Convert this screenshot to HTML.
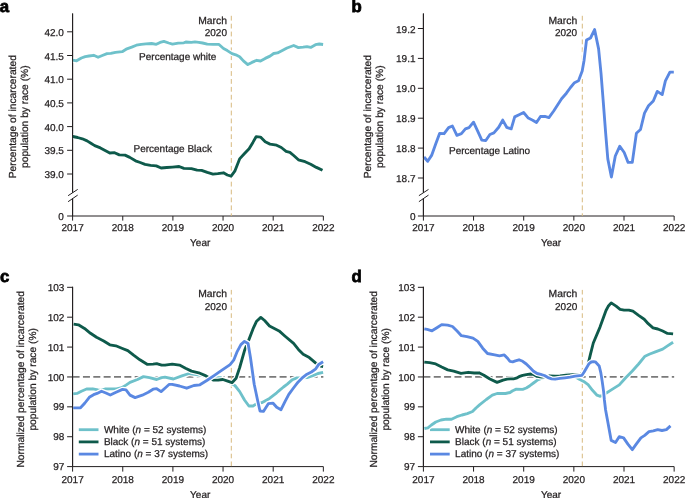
<!DOCTYPE html><html><head><meta charset="utf-8"><style>html,body{margin:0;padding:0;background:#fff;}body{width:685px;height:498px;overflow:hidden;}svg{display:block;will-change:transform;text-rendering:geometricPrecision;font-family:"Liberation Sans",sans-serif;}text{fill:#231f20;stroke:#231f20;stroke-width:0.25px;}</style></head><body>
<svg width="685" height="498" viewBox="0 0 685 498">
<text x="-0.2" y="12.1" text-anchor="start" font-size="16.8" font-weight="bold" style="fill:#000;stroke:#000;stroke-width:0.75px">a</text>
<text x="351.6" y="12.1" text-anchor="start" font-size="16.8" font-weight="bold" style="fill:#000;stroke:#000;stroke-width:0.75px">b</text>
<text x="0.0" y="282.3" text-anchor="start" font-size="16.8" font-weight="bold" style="fill:#000;stroke:#000;stroke-width:0.75px">c</text>
<text x="351.4" y="282.3" text-anchor="start" font-size="16.8" font-weight="bold" style="fill:#000;stroke:#000;stroke-width:0.75px">d</text>
<line x1="72.6" y1="13.5" x2="72.6" y2="192.7" stroke="#231f20" stroke-width="1" />
<line x1="72.6" y1="198.6" x2="72.6" y2="216" stroke="#231f20" stroke-width="1" />
<line x1="68.1" y1="195.7" x2="77.69999999999999" y2="189.4" stroke="#231f20" stroke-width="1" />
<line x1="68.1" y1="201.7" x2="77.69999999999999" y2="195.1" stroke="#231f20" stroke-width="1" />
<line x1="67.1" y1="31.799999999999997" x2="72.6" y2="31.799999999999997" stroke="#231f20" stroke-width="1" />
<text x="63.9" y="35.8" text-anchor="end" font-size="10" font-weight="normal" >42.0</text>
<line x1="67.1" y1="55.5" x2="72.6" y2="55.5" stroke="#231f20" stroke-width="1" />
<text x="63.9" y="59.5" text-anchor="end" font-size="10" font-weight="normal" >41.5</text>
<line x1="67.1" y1="79.19999999999999" x2="72.6" y2="79.19999999999999" stroke="#231f20" stroke-width="1" />
<text x="63.9" y="83.2" text-anchor="end" font-size="10" font-weight="normal" >41.0</text>
<line x1="67.1" y1="102.89999999999999" x2="72.6" y2="102.89999999999999" stroke="#231f20" stroke-width="1" />
<text x="63.9" y="106.9" text-anchor="end" font-size="10" font-weight="normal" >40.5</text>
<line x1="67.1" y1="126.6" x2="72.6" y2="126.6" stroke="#231f20" stroke-width="1" />
<text x="63.9" y="130.6" text-anchor="end" font-size="10" font-weight="normal" >40.0</text>
<line x1="67.1" y1="150.29999999999998" x2="72.6" y2="150.29999999999998" stroke="#231f20" stroke-width="1" />
<text x="63.9" y="154.3" text-anchor="end" font-size="10" font-weight="normal" >39.5</text>
<line x1="67.1" y1="174.0" x2="72.6" y2="174.0" stroke="#231f20" stroke-width="1" />
<text x="63.9" y="178.0" text-anchor="end" font-size="10" font-weight="normal" >39.0</text>
<text x="63.9" y="220.0" text-anchor="end" font-size="10" font-weight="normal" >0</text>
<line x1="67.1" y1="216" x2="323.35" y2="216" stroke="#231f20" stroke-width="1" />
<line x1="72.6" y1="216" x2="72.6" y2="220.6" stroke="#231f20" stroke-width="1" />
<text x="72.6" y="231.3" text-anchor="middle" font-size="10" font-weight="normal" >2017</text>
<line x1="122.75" y1="216" x2="122.75" y2="220.6" stroke="#231f20" stroke-width="1" />
<text x="122.75" y="231.3" text-anchor="middle" font-size="10" font-weight="normal" >2018</text>
<line x1="172.89999999999998" y1="216" x2="172.89999999999998" y2="220.6" stroke="#231f20" stroke-width="1" />
<text x="172.89999999999998" y="231.3" text-anchor="middle" font-size="10" font-weight="normal" >2019</text>
<line x1="223.04999999999998" y1="216" x2="223.04999999999998" y2="220.6" stroke="#231f20" stroke-width="1" />
<text x="223.04999999999998" y="231.3" text-anchor="middle" font-size="10" font-weight="normal" >2020</text>
<line x1="273.2" y1="216" x2="273.2" y2="220.6" stroke="#231f20" stroke-width="1" />
<text x="273.2" y="231.3" text-anchor="middle" font-size="10" font-weight="normal" >2021</text>
<line x1="323.35" y1="216" x2="323.35" y2="220.6" stroke="#231f20" stroke-width="1" />
<text x="323.35" y="231.3" text-anchor="middle" font-size="10" font-weight="normal" >2022</text>
<text x="200.2" y="246.0" text-anchor="middle" font-size="10" font-weight="normal" >Year</text>
<text transform="translate(15.7,116.7) rotate(-90)" text-anchor="middle" font-size="10.25">Percentage of incarcerated</text>
<text transform="translate(27.9,116.7) rotate(-90)" text-anchor="middle" font-size="10.25">population by race (%)</text>
<line x1="231.3" y1="15.8" x2="231.3" y2="216" stroke="#d8b97f" stroke-width="1" stroke-dasharray="4.8 3.1"/>
<text x="227.0" y="24.2" text-anchor="end" font-size="10.35" font-weight="normal" >March</text>
<text x="227.0" y="36.0" text-anchor="end" font-size="10" font-weight="normal" >2020</text>
<polyline points="72.8,60.2 76.6,60.8 81.4,58.0 85.2,56.6 89.0,56.0 93.7,55.3 98.1,57.2 102.3,55.5 107.0,53.6 110.8,53.4 115.5,52.3 122.2,51.7 126.9,48.8 131.7,47.1 136.4,45.2 141.2,44.3 145.9,43.9 151.6,43.5 156.3,44.3 160.1,42.4 163.9,41.4 168.7,43.0 172.5,44.1 178.2,43.2 183.9,42.8 185.8,42.0 191.4,42.4 195.0,41.9 198.8,42.3 202.6,43.0 207.3,44.2 213.0,44.3 218.7,44.3 223.5,48.5 227.3,50.6 232.0,53.6 235.8,54.8 239.6,56.7 243.4,60.9 247.8,64.6 251.9,62.4 256.7,60.3 260.5,61.0 265.2,58.4 270.0,56.1 273.7,53.5 277.5,52.9 282.3,50.4 287.0,48.0 293.7,45.5 298.4,47.6 303.2,47.2 307.0,46.6 310.7,47.4 315.5,44.7 319.3,44.0 323.1,44.5" fill="none" stroke="#fff" stroke-width="5.25" stroke-linejoin="round" stroke-linecap="butt"/>
<polyline points="72.8,60.2 76.6,60.8 81.4,58.0 85.2,56.6 89.0,56.0 93.7,55.3 98.1,57.2 102.3,55.5 107.0,53.6 110.8,53.4 115.5,52.3 122.2,51.7 126.9,48.8 131.7,47.1 136.4,45.2 141.2,44.3 145.9,43.9 151.6,43.5 156.3,44.3 160.1,42.4 163.9,41.4 168.7,43.0 172.5,44.1 178.2,43.2 183.9,42.8 185.8,42.0 191.4,42.4 195.0,41.9 198.8,42.3 202.6,43.0 207.3,44.2 213.0,44.3 218.7,44.3 223.5,48.5 227.3,50.6 232.0,53.6 235.8,54.8 239.6,56.7 243.4,60.9 247.8,64.6 251.9,62.4 256.7,60.3 260.5,61.0 265.2,58.4 270.0,56.1 273.7,53.5 277.5,52.9 282.3,50.4 287.0,48.0 293.7,45.5 298.4,47.6 303.2,47.2 307.0,46.6 310.7,47.4 315.5,44.7 319.3,44.0 323.1,44.5" fill="none" stroke="#6ec1ca" stroke-width="2.85" stroke-linejoin="round" stroke-linecap="butt"/>
<polyline points="72.8,136.5 77.6,137.5 82.3,138.8 87.1,140.9 90.9,143.2 94.7,145.6 100.4,147.9 105.1,150.4 109.8,153.0 114.6,152.7 119.3,154.9 125.0,155.1 129.8,157.4 135.5,160.8 140.2,162.5 145.0,164.4 150.6,165.4 156.3,165.9 161.1,168.0 166.8,167.5 172.5,167.1 179.1,166.5 183.9,168.4 191.4,168.6 197.1,170.1 201.6,170.3 207.3,172.4 213.0,174.1 217.8,173.7 223.5,172.8 227.3,175.0 231.1,176.2 234.8,171.2 239.6,158.9 244.3,153.8 249.1,148.8 252.9,142.4 256.1,136.7 260.5,137.1 265.2,141.8 270.0,144.1 276.6,145.2 281.3,147.5 286.1,151.3 289.9,152.3 293.7,155.5 298.4,159.8 305.1,161.7 310.7,164.2 316.4,167.4 322.5,170.3" fill="none" stroke="#fff" stroke-width="5.25" stroke-linejoin="round" stroke-linecap="butt"/>
<polyline points="72.8,136.5 77.6,137.5 82.3,138.8 87.1,140.9 90.9,143.2 94.7,145.6 100.4,147.9 105.1,150.4 109.8,153.0 114.6,152.7 119.3,154.9 125.0,155.1 129.8,157.4 135.5,160.8 140.2,162.5 145.0,164.4 150.6,165.4 156.3,165.9 161.1,168.0 166.8,167.5 172.5,167.1 179.1,166.5 183.9,168.4 191.4,168.6 197.1,170.1 201.6,170.3 207.3,172.4 213.0,174.1 217.8,173.7 223.5,172.8 227.3,175.0 231.1,176.2 234.8,171.2 239.6,158.9 244.3,153.8 249.1,148.8 252.9,142.4 256.1,136.7 260.5,137.1 265.2,141.8 270.0,144.1 276.6,145.2 281.3,147.5 286.1,151.3 289.9,152.3 293.7,155.5 298.4,159.8 305.1,161.7 310.7,164.2 316.4,167.4 322.5,170.3" fill="none" stroke="#0e5a4b" stroke-width="2.85" stroke-linejoin="round" stroke-linecap="butt"/>
<text x="139.1" y="60.0" text-anchor="start" font-size="10" font-weight="normal" >Percentage white</text>
<text x="133.5" y="151.9" text-anchor="start" font-size="10" font-weight="normal" >Percentage Black</text>
<line x1="423.4" y1="13.5" x2="423.4" y2="192.7" stroke="#231f20" stroke-width="1" />
<line x1="423.4" y1="198.6" x2="423.4" y2="216" stroke="#231f20" stroke-width="1" />
<line x1="418.9" y1="195.7" x2="428.5" y2="189.4" stroke="#231f20" stroke-width="1" />
<line x1="418.9" y1="201.7" x2="428.5" y2="195.1" stroke="#231f20" stroke-width="1" />
<line x1="417.9" y1="28.500000000000213" x2="423.4" y2="28.500000000000213" stroke="#231f20" stroke-width="1" />
<text x="415.5" y="32.5" text-anchor="end" font-size="10" font-weight="normal" >19.2</text>
<line x1="417.9" y1="58.39999999999957" x2="423.4" y2="58.39999999999957" stroke="#231f20" stroke-width="1" />
<text x="415.5" y="62.4" text-anchor="end" font-size="10" font-weight="normal" >19.1</text>
<line x1="417.9" y1="88.3" x2="423.4" y2="88.3" stroke="#231f20" stroke-width="1" />
<text x="415.5" y="92.3" text-anchor="end" font-size="10" font-weight="normal" >19.0</text>
<line x1="417.9" y1="118.20000000000041" x2="423.4" y2="118.20000000000041" stroke="#231f20" stroke-width="1" />
<text x="415.5" y="122.2" text-anchor="end" font-size="10" font-weight="normal" >18.9</text>
<line x1="417.9" y1="148.0999999999998" x2="423.4" y2="148.0999999999998" stroke="#231f20" stroke-width="1" />
<text x="415.5" y="152.1" text-anchor="end" font-size="10" font-weight="normal" >18.8</text>
<line x1="417.9" y1="178.00000000000023" x2="423.4" y2="178.00000000000023" stroke="#231f20" stroke-width="1" />
<text x="415.5" y="182.0" text-anchor="end" font-size="10" font-weight="normal" >18.7</text>
<text x="415.5" y="220.0" text-anchor="end" font-size="10" font-weight="normal" >0</text>
<line x1="417.9" y1="216" x2="674.15" y2="216" stroke="#231f20" stroke-width="1" />
<line x1="423.4" y1="216" x2="423.4" y2="220.6" stroke="#231f20" stroke-width="1" />
<text x="423.4" y="231.3" text-anchor="middle" font-size="10" font-weight="normal" >2017</text>
<line x1="473.54999999999995" y1="216" x2="473.54999999999995" y2="220.6" stroke="#231f20" stroke-width="1" />
<text x="473.54999999999995" y="231.3" text-anchor="middle" font-size="10" font-weight="normal" >2018</text>
<line x1="523.6999999999999" y1="216" x2="523.6999999999999" y2="220.6" stroke="#231f20" stroke-width="1" />
<text x="523.6999999999999" y="231.3" text-anchor="middle" font-size="10" font-weight="normal" >2019</text>
<line x1="573.8499999999999" y1="216" x2="573.8499999999999" y2="220.6" stroke="#231f20" stroke-width="1" />
<text x="573.8499999999999" y="231.3" text-anchor="middle" font-size="10" font-weight="normal" >2020</text>
<line x1="624.0" y1="216" x2="624.0" y2="220.6" stroke="#231f20" stroke-width="1" />
<text x="624.0" y="231.3" text-anchor="middle" font-size="10" font-weight="normal" >2021</text>
<line x1="674.15" y1="216" x2="674.15" y2="220.6" stroke="#231f20" stroke-width="1" />
<text x="674.15" y="231.3" text-anchor="middle" font-size="10" font-weight="normal" >2022</text>
<text x="551.0" y="246.0" text-anchor="middle" font-size="10" font-weight="normal" >Year</text>
<text transform="translate(370.7,116.7) rotate(-90)" text-anchor="middle" font-size="10.25">Percentage of incarcerated</text>
<text transform="translate(382.9,116.7) rotate(-90)" text-anchor="middle" font-size="10.25">population by race (%)</text>
<line x1="582.3" y1="15.8" x2="582.3" y2="216" stroke="#d8b97f" stroke-width="1" stroke-dasharray="4.8 3.1"/>
<text x="577.2" y="24.2" text-anchor="end" font-size="10.35" font-weight="normal" >March</text>
<text x="577.2" y="36.0" text-anchor="end" font-size="10" font-weight="normal" >2020</text>
<polyline points="424.0,157.0 427.7,161.3 431.6,155.4 435.6,144.2 439.6,133.4 444.1,133.7 448.6,127.6 452.4,126.0 456.9,135.3 461.4,133.7 465.4,128.9 469.0,127.6 473.5,122.2 477.8,131.3 481.8,140.1 485.8,140.5 489.9,134.5 493.9,132.9 498.7,127.3 502.7,120.1 506.7,127.3 511.2,128.9 514.7,116.9 519.6,114.5 523.6,112.5 528.3,118.1 532.7,120.3 536.5,122.5 540.5,116.5 544.9,116.3 548.9,117.6 553.7,111.0 561.6,98.8 566.4,93.2 570.5,87.5 574.5,82.7 578.5,80.8 582.2,71.1 584.1,60.2 586.5,40.1 590.5,38.0 594.6,29.6 598.6,48.9 601.0,73.1 603.1,99.6 605.6,132.4 607.8,158.9 611.4,177.0 615.3,156.0 619.8,146.2 624.2,152.5 628.1,162.4 632.3,162.4 636.4,133.2 640.5,129.5 644.5,113.1 648.5,105.8 653.3,101.0 657.3,91.4 662.2,94.6 665.4,80.9 669.9,72.1 673.8,72.1" fill="none" stroke="#fff" stroke-width="5.25" stroke-linejoin="round" stroke-linecap="butt"/>
<polyline points="424.0,157.0 427.7,161.3 431.6,155.4 435.6,144.2 439.6,133.4 444.1,133.7 448.6,127.6 452.4,126.0 456.9,135.3 461.4,133.7 465.4,128.9 469.0,127.6 473.5,122.2 477.8,131.3 481.8,140.1 485.8,140.5 489.9,134.5 493.9,132.9 498.7,127.3 502.7,120.1 506.7,127.3 511.2,128.9 514.7,116.9 519.6,114.5 523.6,112.5 528.3,118.1 532.7,120.3 536.5,122.5 540.5,116.5 544.9,116.3 548.9,117.6 553.7,111.0 561.6,98.8 566.4,93.2 570.5,87.5 574.5,82.7 578.5,80.8 582.2,71.1 584.1,60.2 586.5,40.1 590.5,38.0 594.6,29.6 598.6,48.9 601.0,73.1 603.1,99.6 605.6,132.4 607.8,158.9 611.4,177.0 615.3,156.0 619.8,146.2 624.2,152.5 628.1,162.4 632.3,162.4 636.4,133.2 640.5,129.5 644.5,113.1 648.5,105.8 653.3,101.0 657.3,91.4 662.2,94.6 665.4,80.9 669.9,72.1 673.8,72.1" fill="none" stroke="#5a88e2" stroke-width="2.85" stroke-linejoin="round" stroke-linecap="butt"/>
<text x="449.0" y="154.0" text-anchor="start" font-size="10" font-weight="normal" >Percentage Latino</text>
<line x1="72.6" y1="286.8" x2="72.6" y2="466.6" stroke="#231f20" stroke-width="1" />
<line x1="67.1" y1="466.6" x2="72.6" y2="466.6" stroke="#231f20" stroke-width="1" />
<text x="64.4" y="470.2" text-anchor="end" font-size="10" font-weight="normal" >97</text>
<line x1="67.1" y1="436.72" x2="72.6" y2="436.72" stroke="#231f20" stroke-width="1" />
<text x="64.4" y="440.32" text-anchor="end" font-size="10" font-weight="normal" >98</text>
<line x1="67.1" y1="406.84000000000003" x2="72.6" y2="406.84000000000003" stroke="#231f20" stroke-width="1" />
<text x="64.4" y="410.44" text-anchor="end" font-size="10" font-weight="normal" >99</text>
<line x1="67.1" y1="376.96000000000004" x2="72.6" y2="376.96000000000004" stroke="#231f20" stroke-width="1" />
<text x="64.4" y="380.56" text-anchor="end" font-size="10" font-weight="normal" >100</text>
<line x1="67.1" y1="347.08000000000004" x2="72.6" y2="347.08000000000004" stroke="#231f20" stroke-width="1" />
<text x="64.4" y="350.68" text-anchor="end" font-size="10" font-weight="normal" >101</text>
<line x1="67.1" y1="317.20000000000005" x2="72.6" y2="317.20000000000005" stroke="#231f20" stroke-width="1" />
<text x="64.4" y="320.8" text-anchor="end" font-size="10" font-weight="normal" >102</text>
<line x1="67.1" y1="287.32000000000005" x2="72.6" y2="287.32000000000005" stroke="#231f20" stroke-width="1" />
<text x="64.4" y="290.92" text-anchor="end" font-size="10" font-weight="normal" >103</text>
<line x1="72.6" y1="466.6" x2="323.35" y2="466.6" stroke="#231f20" stroke-width="1" />
<line x1="72.6" y1="466.6" x2="72.6" y2="471.6" stroke="#231f20" stroke-width="1" />
<text x="72.6" y="483.4" text-anchor="middle" font-size="10" font-weight="normal" >2017</text>
<line x1="122.75" y1="466.6" x2="122.75" y2="471.6" stroke="#231f20" stroke-width="1" />
<text x="122.75" y="483.4" text-anchor="middle" font-size="10" font-weight="normal" >2018</text>
<line x1="172.89999999999998" y1="466.6" x2="172.89999999999998" y2="471.6" stroke="#231f20" stroke-width="1" />
<text x="172.89999999999998" y="483.4" text-anchor="middle" font-size="10" font-weight="normal" >2019</text>
<line x1="223.04999999999998" y1="466.6" x2="223.04999999999998" y2="471.6" stroke="#231f20" stroke-width="1" />
<text x="223.04999999999998" y="483.4" text-anchor="middle" font-size="10" font-weight="normal" >2020</text>
<line x1="273.2" y1="466.6" x2="273.2" y2="471.6" stroke="#231f20" stroke-width="1" />
<text x="273.2" y="483.4" text-anchor="middle" font-size="10" font-weight="normal" >2021</text>
<line x1="323.35" y1="466.6" x2="323.35" y2="471.6" stroke="#231f20" stroke-width="1" />
<text x="323.35" y="483.4" text-anchor="middle" font-size="10" font-weight="normal" >2022</text>
<text x="200.2" y="498.0" text-anchor="middle" font-size="10" font-weight="normal" >Year</text>
<text transform="translate(24.0,379.3) rotate(-90)" text-anchor="middle" font-size="10.25">Normalized percentage of incarcerated</text>
<text transform="translate(36.3,379.3) rotate(-90)" text-anchor="middle" font-size="10.25">population by race (%)</text>
<line x1="72.6" y1="376.96000000000004" x2="323.35" y2="376.96000000000004" stroke="#7a7a7a" stroke-width="1.8" stroke-dasharray="7 3.35"/>
<line x1="231.3" y1="289.9" x2="231.3" y2="466.6" stroke="#d8b97f" stroke-width="1" stroke-dasharray="4.6 3.2"/>
<text x="227.0" y="297.4" text-anchor="end" font-size="10.35" font-weight="normal" >March</text>
<text x="227.0" y="309.8" text-anchor="end" font-size="10" font-weight="normal" >2020</text>
<line x1="78.8" y1="429.7" x2="98.5" y2="429.7" stroke="#6ec1ca" stroke-width="2.8" />
<text x="103.9" y="433.2" text-anchor="start" font-size="10" font-weight="normal" >White (<tspan font-style="italic">n</tspan> = 52 systems)</text>
<line x1="78.8" y1="441.9" x2="98.5" y2="441.9" stroke="#0e5a4b" stroke-width="2.8" />
<text x="103.9" y="445.15" text-anchor="start" font-size="10" font-weight="normal" >Black (<tspan font-style="italic">n</tspan> = 51 systems)</text>
<line x1="78.8" y1="454.09999999999997" x2="98.5" y2="454.09999999999997" stroke="#5a88e2" stroke-width="2.8" />
<text x="103.9" y="457.1" text-anchor="start" font-size="10" font-weight="normal" >Latino (<tspan font-style="italic">n</tspan> = 37 systems)</text>
<polyline points="73.2,393.8 77.0,393.4 81.4,391.2 86.6,389.0 92.8,388.8 98.0,389.9 100.6,390.3 105.0,389.0 110.3,388.8 116.4,388.8 121.7,387.7 126.0,385.1 130.0,382.4 137.5,379.5 143.5,376.6 149.5,377.6 156.7,379.5 161.6,377.6 165.0,377.1 173.4,379.0 181.9,375.9 189.1,373.5 196.3,374.7 203.6,375.9 212.0,377.6 220.4,377.6 227.7,381.9 234.9,385.5 239.7,391.6 244.5,400.0 248.9,406.0 253.0,406.0 257.8,403.1 262.2,402.5 269.5,398.4 276.7,392.8 280.0,389.9 283.5,387.0 287.3,384.1 292.4,379.7 296.8,377.9 302.0,377.8 307.0,377.6 312.8,375.7 318.0,373.5 323.1,372.4" fill="none" stroke="#fff" stroke-width="5.25" stroke-linejoin="round" stroke-linecap="butt"/>
<polyline points="73.2,393.8 77.0,393.4 81.4,391.2 86.6,389.0 92.8,388.8 98.0,389.9 100.6,390.3 105.0,389.0 110.3,388.8 116.4,388.8 121.7,387.7 126.0,385.1 130.0,382.4 137.5,379.5 143.5,376.6 149.5,377.6 156.7,379.5 161.6,377.6 165.0,377.1 173.4,379.0 181.9,375.9 189.1,373.5 196.3,374.7 203.6,375.9 212.0,377.6 220.4,377.6 227.7,381.9 234.9,385.5 239.7,391.6 244.5,400.0 248.9,406.0 253.0,406.0 257.8,403.1 262.2,402.5 269.5,398.4 276.7,392.8 280.0,389.9 283.5,387.0 287.3,384.1 292.4,379.7 296.8,377.9 302.0,377.8 307.0,377.6 312.8,375.7 318.0,373.5 323.1,372.4" fill="none" stroke="#6ec1ca" stroke-width="2.85" stroke-linejoin="round" stroke-linecap="butt"/>
<polyline points="73.6,324.1 78.4,324.8 84.5,328.4 90.5,333.3 96.5,337.3 103.7,341.0 109.8,344.8 115.8,345.8 121.8,348.2 127.8,350.6 133.9,355.4 139.9,359.8 147.1,364.3 153.1,364.1 156.7,363.6 161.6,365.1 165.0,365.1 172.2,364.1 179.5,365.1 185.5,368.2 191.5,371.1 198.7,372.8 206.0,375.9 213.2,380.0 218.0,380.2 222.8,379.5 227.7,381.2 232.0,382.7 236.1,378.3 239.7,367.5 244.5,350.6 249.3,338.6 253.0,328.9 256.6,321.2 260.8,317.4 264.6,320.5 269.5,326.0 274.3,328.5 279.1,330.9 285.1,336.2 293.6,343.4 298.4,349.4 303.2,354.3 309.3,357.6 315.8,363.1 320.9,366.2 323.1,366.6" fill="none" stroke="#fff" stroke-width="5.25" stroke-linejoin="round" stroke-linecap="butt"/>
<polyline points="73.6,324.1 78.4,324.8 84.5,328.4 90.5,333.3 96.5,337.3 103.7,341.0 109.8,344.8 115.8,345.8 121.8,348.2 127.8,350.6 133.9,355.4 139.9,359.8 147.1,364.3 153.1,364.1 156.7,363.6 161.6,365.1 165.0,365.1 172.2,364.1 179.5,365.1 185.5,368.2 191.5,371.1 198.7,372.8 206.0,375.9 213.2,380.0 218.0,380.2 222.8,379.5 227.7,381.2 232.0,382.7 236.1,378.3 239.7,367.5 244.5,350.6 249.3,338.6 253.0,328.9 256.6,321.2 260.8,317.4 264.6,320.5 269.5,326.0 274.3,328.5 279.1,330.9 285.1,336.2 293.6,343.4 298.4,349.4 303.2,354.3 309.3,357.6 315.8,363.1 320.9,366.2 323.1,366.6" fill="none" stroke="#0e5a4b" stroke-width="2.85" stroke-linejoin="round" stroke-linecap="butt"/>
<polyline points="73.2,407.8 80.5,407.8 84.9,403.0 89.3,397.3 93.6,394.7 97.1,393.4 101.5,391.2 105.9,393.0 110.3,395.0 115.5,392.5 122.5,389.4 126.0,389.9 130.0,395.1 135.1,397.6 142.3,395.2 148.3,392.3 153.1,389.2 156.7,388.7 161.1,391.6 165.2,388.0 169.3,384.3 172.2,384.3 179.5,386.0 186.7,388.2 193.9,385.5 199.9,384.8 207.2,380.2 214.4,375.4 221.6,370.4 230.1,364.6 233.7,360.2 237.3,351.3 240.9,344.6 244.5,341.4 248.1,343.4 250.5,357.8 254.2,384.3 257.8,401.2 260.0,411.0 263.4,411.4 268.3,403.7 273.1,403.2 276.7,407.3 281.0,409.7 285.1,401.3 288.8,394.3 293.1,388.5 298.2,381.9 301.9,378.2 307.0,374.2 311.4,372.0 315.8,368.8 318.7,364.4 323.1,361.8" fill="none" stroke="#fff" stroke-width="5.25" stroke-linejoin="round" stroke-linecap="butt"/>
<polyline points="73.2,407.8 80.5,407.8 84.9,403.0 89.3,397.3 93.6,394.7 97.1,393.4 101.5,391.2 105.9,393.0 110.3,395.0 115.5,392.5 122.5,389.4 126.0,389.9 130.0,395.1 135.1,397.6 142.3,395.2 148.3,392.3 153.1,389.2 156.7,388.7 161.1,391.6 165.2,388.0 169.3,384.3 172.2,384.3 179.5,386.0 186.7,388.2 193.9,385.5 199.9,384.8 207.2,380.2 214.4,375.4 221.6,370.4 230.1,364.6 233.7,360.2 237.3,351.3 240.9,344.6 244.5,341.4 248.1,343.4 250.5,357.8 254.2,384.3 257.8,401.2 260.0,411.0 263.4,411.4 268.3,403.7 273.1,403.2 276.7,407.3 281.0,409.7 285.1,401.3 288.8,394.3 293.1,388.5 298.2,381.9 301.9,378.2 307.0,374.2 311.4,372.0 315.8,368.8 318.7,364.4 323.1,361.8" fill="none" stroke="#5a88e2" stroke-width="2.85" stroke-linejoin="round" stroke-linecap="butt"/>
<line x1="423.4" y1="286.8" x2="423.4" y2="466.6" stroke="#231f20" stroke-width="1" />
<line x1="417.9" y1="466.6" x2="423.4" y2="466.6" stroke="#231f20" stroke-width="1" />
<text x="415.0" y="470.2" text-anchor="end" font-size="10" font-weight="normal" >97</text>
<line x1="417.9" y1="436.72" x2="423.4" y2="436.72" stroke="#231f20" stroke-width="1" />
<text x="415.0" y="440.32" text-anchor="end" font-size="10" font-weight="normal" >98</text>
<line x1="417.9" y1="406.84000000000003" x2="423.4" y2="406.84000000000003" stroke="#231f20" stroke-width="1" />
<text x="415.0" y="410.44" text-anchor="end" font-size="10" font-weight="normal" >99</text>
<line x1="417.9" y1="376.96000000000004" x2="423.4" y2="376.96000000000004" stroke="#231f20" stroke-width="1" />
<text x="415.0" y="380.56" text-anchor="end" font-size="10" font-weight="normal" >100</text>
<line x1="417.9" y1="347.08000000000004" x2="423.4" y2="347.08000000000004" stroke="#231f20" stroke-width="1" />
<text x="415.0" y="350.68" text-anchor="end" font-size="10" font-weight="normal" >101</text>
<line x1="417.9" y1="317.20000000000005" x2="423.4" y2="317.20000000000005" stroke="#231f20" stroke-width="1" />
<text x="415.0" y="320.8" text-anchor="end" font-size="10" font-weight="normal" >102</text>
<line x1="417.9" y1="287.32000000000005" x2="423.4" y2="287.32000000000005" stroke="#231f20" stroke-width="1" />
<text x="415.0" y="290.92" text-anchor="end" font-size="10" font-weight="normal" >103</text>
<line x1="423.4" y1="466.6" x2="674.15" y2="466.6" stroke="#231f20" stroke-width="1" />
<line x1="423.4" y1="466.6" x2="423.4" y2="471.6" stroke="#231f20" stroke-width="1" />
<text x="423.4" y="483.4" text-anchor="middle" font-size="10" font-weight="normal" >2017</text>
<line x1="473.54999999999995" y1="466.6" x2="473.54999999999995" y2="471.6" stroke="#231f20" stroke-width="1" />
<text x="473.54999999999995" y="483.4" text-anchor="middle" font-size="10" font-weight="normal" >2018</text>
<line x1="523.6999999999999" y1="466.6" x2="523.6999999999999" y2="471.6" stroke="#231f20" stroke-width="1" />
<text x="523.6999999999999" y="483.4" text-anchor="middle" font-size="10" font-weight="normal" >2019</text>
<line x1="573.8499999999999" y1="466.6" x2="573.8499999999999" y2="471.6" stroke="#231f20" stroke-width="1" />
<text x="573.8499999999999" y="483.4" text-anchor="middle" font-size="10" font-weight="normal" >2020</text>
<line x1="624.0" y1="466.6" x2="624.0" y2="471.6" stroke="#231f20" stroke-width="1" />
<text x="624.0" y="483.4" text-anchor="middle" font-size="10" font-weight="normal" >2021</text>
<line x1="674.15" y1="466.6" x2="674.15" y2="471.6" stroke="#231f20" stroke-width="1" />
<text x="674.15" y="483.4" text-anchor="middle" font-size="10" font-weight="normal" >2022</text>
<text x="551.0" y="498.0" text-anchor="middle" font-size="10" font-weight="normal" >Year</text>
<text transform="translate(376.8,379.3) rotate(-90)" text-anchor="middle" font-size="10.25">Normalized percentage of incarcerated</text>
<text transform="translate(389.1,379.3) rotate(-90)" text-anchor="middle" font-size="10.25">population by race (%)</text>
<line x1="423.4" y1="376.96000000000004" x2="674.15" y2="376.96000000000004" stroke="#7a7a7a" stroke-width="1.8" stroke-dasharray="7 3.35"/>
<line x1="582.3" y1="289.9" x2="582.3" y2="466.6" stroke="#d8b97f" stroke-width="1" stroke-dasharray="4.6 3.2"/>
<text x="577.3" y="297.4" text-anchor="end" font-size="10.35" font-weight="normal" >March</text>
<text x="577.3" y="309.8" text-anchor="end" font-size="10" font-weight="normal" >2020</text>
<line x1="430.0" y1="429.7" x2="449.7" y2="429.7" stroke="#6ec1ca" stroke-width="2.8" />
<text x="455.1" y="433.2" text-anchor="start" font-size="10" font-weight="normal" >White (<tspan font-style="italic">n</tspan> = 52 systems)</text>
<line x1="430.0" y1="441.9" x2="449.7" y2="441.9" stroke="#0e5a4b" stroke-width="2.8" />
<text x="455.1" y="445.15" text-anchor="start" font-size="10" font-weight="normal" >Black (<tspan font-style="italic">n</tspan> = 51 systems)</text>
<line x1="430.0" y1="454.09999999999997" x2="449.7" y2="454.09999999999997" stroke="#5a88e2" stroke-width="2.8" />
<text x="455.1" y="457.1" text-anchor="start" font-size="10" font-weight="normal" >Latino (<tspan font-style="italic">n</tspan> = 37 systems)</text>
<polyline points="424.4,428.5 427.9,427.8 431.4,425.0 435.8,422.0 441.0,420.0 446.3,419.2 451.5,419.2 456.8,416.7 462.0,415.0 467.3,413.6 472.5,411.5 476.0,408.0 479.5,404.9 486.3,399.5 492.3,395.2 497.1,393.5 505.5,393.5 510.0,392.5 512.7,390.7 516.3,389.1 522.7,389.3 526.3,388.0 529.9,385.7 533.5,383.0 537.1,380.3 540.7,378.8 543.5,377.6 548.0,376.6 555.0,376.1 561.6,375.0 568.2,373.9 572.0,374.6 576.0,377.2 579.3,379.2 583.7,381.4 588.1,384.7 592.5,390.3 597.0,395.2 600.3,396.3 602.5,395.2 606.4,392.9 612.9,388.9 619.3,384.9 625.7,377.7 632.1,371.2 638.6,364.0 645.0,356.2 649.8,354.0 655.4,351.9 662.7,349.1 667.5,345.9 673.1,342.2" fill="none" stroke="#fff" stroke-width="5.25" stroke-linejoin="round" stroke-linecap="butt"/>
<polyline points="424.4,428.5 427.9,427.8 431.4,425.0 435.8,422.0 441.0,420.0 446.3,419.2 451.5,419.2 456.8,416.7 462.0,415.0 467.3,413.6 472.5,411.5 476.0,408.0 479.5,404.9 486.3,399.5 492.3,395.2 497.1,393.5 505.5,393.5 510.0,392.5 512.7,390.7 516.3,389.1 522.7,389.3 526.3,388.0 529.9,385.7 533.5,383.0 537.1,380.3 540.7,378.8 543.5,377.6 548.0,376.6 555.0,376.1 561.6,375.0 568.2,373.9 572.0,374.6 576.0,377.2 579.3,379.2 583.7,381.4 588.1,384.7 592.5,390.3 597.0,395.2 600.3,396.3 602.5,395.2 606.4,392.9 612.9,388.9 619.3,384.9 625.7,377.7 632.1,371.2 638.6,364.0 645.0,356.2 649.8,354.0 655.4,351.9 662.7,349.1 667.5,345.9 673.1,342.2" fill="none" stroke="#6ec1ca" stroke-width="2.85" stroke-linejoin="round" stroke-linecap="butt"/>
<polyline points="424.3,362.2 429.6,362.7 435.7,363.9 441.7,367.0 447.7,369.9 453.7,371.1 461.0,373.3 468.2,372.3 474.2,373.0 479.0,372.8 483.9,375.2 489.9,379.0 497.1,382.4 503.1,380.2 507.0,379.2 510.0,378.8 513.6,378.8 516.3,378.2 519.0,376.7 522.7,375.3 526.3,374.6 530.8,374.0 533.5,374.4 537.1,376.4 541.6,377.1 546.0,376.8 549.8,375.8 555.2,376.2 560.0,375.9 566.0,375.2 572.8,374.6 576.4,374.6 580.0,374.6 583.0,373.0 586.6,369.2 588.6,362.0 590.3,354.9 593.3,343.0 600.0,327.1 606.0,310.5 608.2,306.3 611.2,302.9 616.1,306.1 620.1,309.3 624.1,310.1 628.9,310.1 632.9,311.2 638.6,315.4 644.2,319.2 648.2,323.7 653.0,327.8 657.8,329.0 662.7,331.0 667.5,333.4 673.1,333.9" fill="none" stroke="#fff" stroke-width="5.25" stroke-linejoin="round" stroke-linecap="butt"/>
<polyline points="424.3,362.2 429.6,362.7 435.7,363.9 441.7,367.0 447.7,369.9 453.7,371.1 461.0,373.3 468.2,372.3 474.2,373.0 479.0,372.8 483.9,375.2 489.9,379.0 497.1,382.4 503.1,380.2 507.0,379.2 510.0,378.8 513.6,378.8 516.3,378.2 519.0,376.7 522.7,375.3 526.3,374.6 530.8,374.0 533.5,374.4 537.1,376.4 541.6,377.1 546.0,376.8 549.8,375.8 555.2,376.2 560.0,375.9 566.0,375.2 572.8,374.6 576.4,374.6 580.0,374.6 583.0,373.0 586.6,369.2 588.6,362.0 590.3,354.9 593.3,343.0 600.0,327.1 606.0,310.5 608.2,306.3 611.2,302.9 616.1,306.1 620.1,309.3 624.1,310.1 628.9,310.1 632.9,311.2 638.6,315.4 644.2,319.2 648.2,323.7 653.0,327.8 657.8,329.0 662.7,331.0 667.5,333.4 673.1,333.9" fill="none" stroke="#0e5a4b" stroke-width="2.85" stroke-linejoin="round" stroke-linecap="butt"/>
<polyline points="424.3,328.9 427.2,329.4 432.0,330.8 436.9,327.7 441.7,324.6 447.7,325.1 452.5,326.5 457.3,331.3 461.4,335.7 467.0,336.6 473.0,338.1 477.8,341.4 482.7,348.2 487.5,353.5 494.7,354.9 499.5,355.9 504.3,354.9 508.0,358.8 510.0,361.3 512.7,361.8 515.4,360.8 519.0,359.8 522.7,361.3 526.3,364.0 529.9,367.6 533.5,371.2 537.1,373.5 540.7,374.4 544.4,375.5 548.0,377.6 551.6,378.8 555.2,379.1 560.0,378.4 565.0,377.8 570.2,377.1 575.3,376.2 582.0,375.3 584.0,372.3 586.6,367.7 589.1,363.6 591.2,362.0 593.5,361.6 595.3,361.8 599.2,366.0 600.8,372.6 602.2,381.4 603.6,391.4 604.4,400.0 605.6,410.0 608.1,423.6 611.2,440.4 615.5,442.5 619.2,436.7 623.6,437.9 627.9,444.1 632.3,449.7 636.6,443.7 640.9,437.9 644.7,435.4 649.0,431.7 653.3,430.8 657.7,429.6 662.0,430.5 666.4,429.6 670.5,425.9" fill="none" stroke="#fff" stroke-width="5.25" stroke-linejoin="round" stroke-linecap="butt"/>
<polyline points="424.3,328.9 427.2,329.4 432.0,330.8 436.9,327.7 441.7,324.6 447.7,325.1 452.5,326.5 457.3,331.3 461.4,335.7 467.0,336.6 473.0,338.1 477.8,341.4 482.7,348.2 487.5,353.5 494.7,354.9 499.5,355.9 504.3,354.9 508.0,358.8 510.0,361.3 512.7,361.8 515.4,360.8 519.0,359.8 522.7,361.3 526.3,364.0 529.9,367.6 533.5,371.2 537.1,373.5 540.7,374.4 544.4,375.5 548.0,377.6 551.6,378.8 555.2,379.1 560.0,378.4 565.0,377.8 570.2,377.1 575.3,376.2 582.0,375.3 584.0,372.3 586.6,367.7 589.1,363.6 591.2,362.0 593.5,361.6 595.3,361.8 599.2,366.0 600.8,372.6 602.2,381.4 603.6,391.4 604.4,400.0 605.6,410.0 608.1,423.6 611.2,440.4 615.5,442.5 619.2,436.7 623.6,437.9 627.9,444.1 632.3,449.7 636.6,443.7 640.9,437.9 644.7,435.4 649.0,431.7 653.3,430.8 657.7,429.6 662.0,430.5 666.4,429.6 670.5,425.9" fill="none" stroke="#5a88e2" stroke-width="2.85" stroke-linejoin="round" stroke-linecap="butt"/>
<line x1="72.6" y1="13.5" x2="72.6" y2="192.7" stroke="#231f20" stroke-width="1" />
<line x1="72.6" y1="198.6" x2="72.6" y2="216" stroke="#231f20" stroke-width="1" />
<line x1="72.6" y1="286.8" x2="72.6" y2="466.6" stroke="#231f20" stroke-width="1" />
<line x1="423.4" y1="13.5" x2="423.4" y2="192.7" stroke="#231f20" stroke-width="1" />
<line x1="423.4" y1="198.6" x2="423.4" y2="216" stroke="#231f20" stroke-width="1" />
<line x1="423.4" y1="286.8" x2="423.4" y2="466.6" stroke="#231f20" stroke-width="1" />
</svg></body></html>
